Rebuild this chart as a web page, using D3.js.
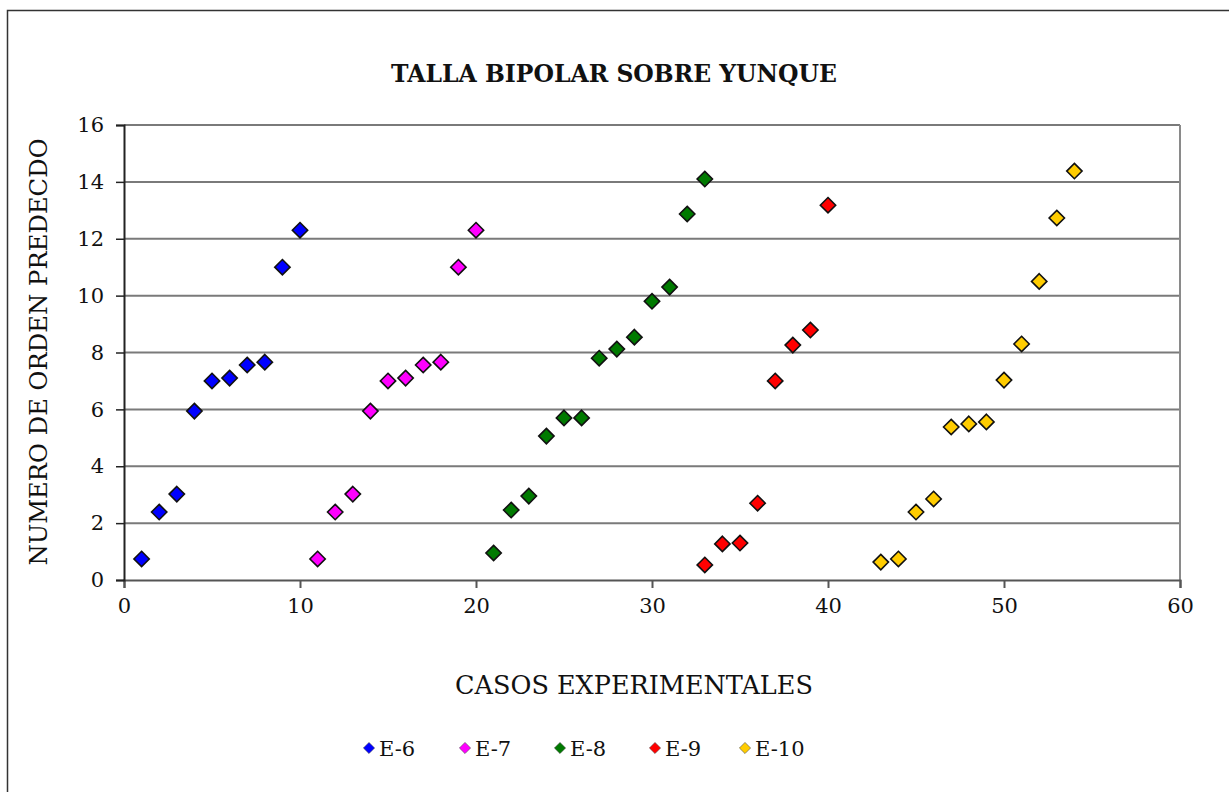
<!DOCTYPE html>
<html>
<head>
<script src="https://d3js.org/d3.v7.min.js"></script>
<style>
  body { margin: 0; background: #ffffff; }
  svg text { font-family: "DejaVu Serif", "Liberation Serif", serif; fill: #111; }
</style>
</head>
<body>
<div id="chart"></div>
<script>
var seriesNames = ["E-6", "E-7", "E-8", "E-9", "E-10"];
var seriesColors = ["#0000ff", "#ff00ff", "#007a00", "#ff0000", "#ffcc00"];

var e6x = [1, 2, 3, 4, 5, 6, 7, 8, 9, 10];
var e6y = [0.74, 2.39, 3.02, 5.94, 7.0, 7.1, 7.56, 7.66, 11.0, 12.3];

var e7x = [11, 12, 13, 14, 15, 16, 17, 18, 19, 20];
var e7y = [0.74, 2.39, 3.02, 5.94, 7.0, 7.1, 7.56, 7.66, 11.0, 12.3];

var e8x = [21, 22, 23, 24, 25, 26, 27, 28, 29, 30, 31, 32, 33];
var e8y = [0.95, 2.46, 2.95, 5.06, 5.7, 5.7, 7.8, 8.12, 8.54, 9.8, 10.3, 12.87, 14.1];

var e9x = [33, 34, 35, 36, 37, 38, 39, 40];
var e9y = [0.53, 1.27, 1.3, 2.7, 7.0, 8.26, 8.79, 13.18];

var e10x = [43, 44, 45, 46, 47, 48, 49, 50, 51, 52, 53, 54];
var e10y = [0.63, 0.74, 2.39, 2.85, 5.38, 5.49, 5.56, 7.03, 8.3, 10.5, 12.73, 14.38];

var xTicks = [0, 10, 20, 30, 40, 50, 60];
var yTicks = [0, 2, 4, 6, 8, 10, 12, 14, 16];

var allX = [e6x, e7x, e8x, e9x, e10x];
var allY = [e6y, e7y, e8y, e9y, e10y];

var W = 1229, H = 792;
var margin = { top: 125, right: 49, bottom: 212, left: 124 };
var width = W - margin.left - margin.right,
    height = H - margin.top - margin.bottom;

var svg = d3.select("#chart").append("svg")
    .attr("width", W)
    .attr("height", H);

// outer frame (right and bottom edges fall outside the picture)
svg.append("rect")
    .attr("x", 7.5).attr("y", 10.5)
    .attr("width", W + 20).attr("height", H + 20)
    .attr("fill", "none")
    .attr("stroke", "#333")
    .attr("stroke-width", 1.5);

var g = svg.append("g")
    .attr("transform", "translate(" + margin.left + "," + margin.top + ")");

var x = d3.scaleLinear().domain([0, 60]).range([0, width]);
var y = d3.scaleLinear().domain([0, 16]).range([height, 0]);

// gridlines
g.selectAll(".grid")
    .data(yTicks.slice(1))
    .enter().append("line")
    .attr("x1", 0).attr("x2", width)
    .attr("y1", function(d) { return y(d); })
    .attr("y2", function(d) { return y(d); })
    .attr("stroke", "#7a7a7a")
    .attr("stroke-width", 2);

// right border of plot area
g.append("line")
    .attr("x1", width).attr("x2", width)
    .attr("y1", 0).attr("y2", height)
    .attr("stroke", "#8a8a8a")
    .attr("stroke-width", 2);

var xAxis = g.append("g")
    .attr("transform", "translate(0," + height + ")")
    .call(d3.axisBottom(x).tickValues(xTicks).tickSize(8).tickPadding(10));
xAxis.select(".domain").attr("stroke", "#555").attr("stroke-width", 2);
xAxis.selectAll(".tick line").attr("stroke", "#555").attr("stroke-width", 2);
xAxis.selectAll("text").style("font-size", "21px").attr("fill", "#111");

var yAxis = g.append("g")
    .call(d3.axisLeft(y).tickValues(yTicks).tickSize(8).tickPadding(12));
yAxis.select(".domain").attr("stroke", "#222").attr("stroke-width", 2);
yAxis.selectAll(".tick line").attr("stroke", "#222").attr("stroke-width", 1.5);
yAxis.selectAll("text").style("font-size", "21px").attr("fill", "#111");

// points
var diamond = d3.symbol().type(d3.symbolDiamond2).size(150);
allX.forEach(function(xs, i) {
    var pts = xs.map(function(v, j) { return [v, allY[i][j]]; });
    g.selectAll(".pt" + i)
        .data(pts)
        .enter().append("path")
        .attr("d", diamond)
        .attr("transform", function(d) { return "translate(" + x(d[0]) + "," + y(d[1]) + ")"; })
        .attr("fill", seriesColors[i])
        .attr("stroke", "#111")
        .attr("stroke-width", 1.6);
});

// title
svg.append("text")
    .attr("x", 614).attr("y", 82)
    .attr("text-anchor", "middle")
    .style("font-size", "23.5px")
    .style("font-weight", "bold")
    .text("TALLA BIPOLAR SOBRE YUNQUE");

// axis titles
svg.append("text")
    .attr("x", 634).attr("y", 694)
    .attr("text-anchor", "middle")
    .style("font-size", "25.5px")
    .text("CASOS EXPERIMENTALES");

svg.append("text")
    .attr("transform", "translate(47,352) rotate(-90)")
    .attr("text-anchor", "middle")
    .style("font-size", "24.3px")
    .text("NUMERO DE ORDEN PREDECDO");

// legend
var legendX = [369, 465, 560, 655, 745];
var legendSym = d3.symbol().type(d3.symbolDiamond2).size(80);
var leg = svg.selectAll(".leg")
    .data(seriesNames)
    .enter().append("g")
    .attr("transform", function(d, i) { return "translate(" + legendX[i] + ",748)"; });
leg.append("path")
    .attr("d", legendSym)
    .attr("fill", function(d, i) { return seriesColors[i]; })
    .attr("stroke", "#333")
    .attr("stroke-width", 0.5);
leg.append("text")
    .attr("x", 10).attr("y", 8)
    .style("font-size", "21px")
    .text(function(d) { return d; });
</script>
</body>
</html>
